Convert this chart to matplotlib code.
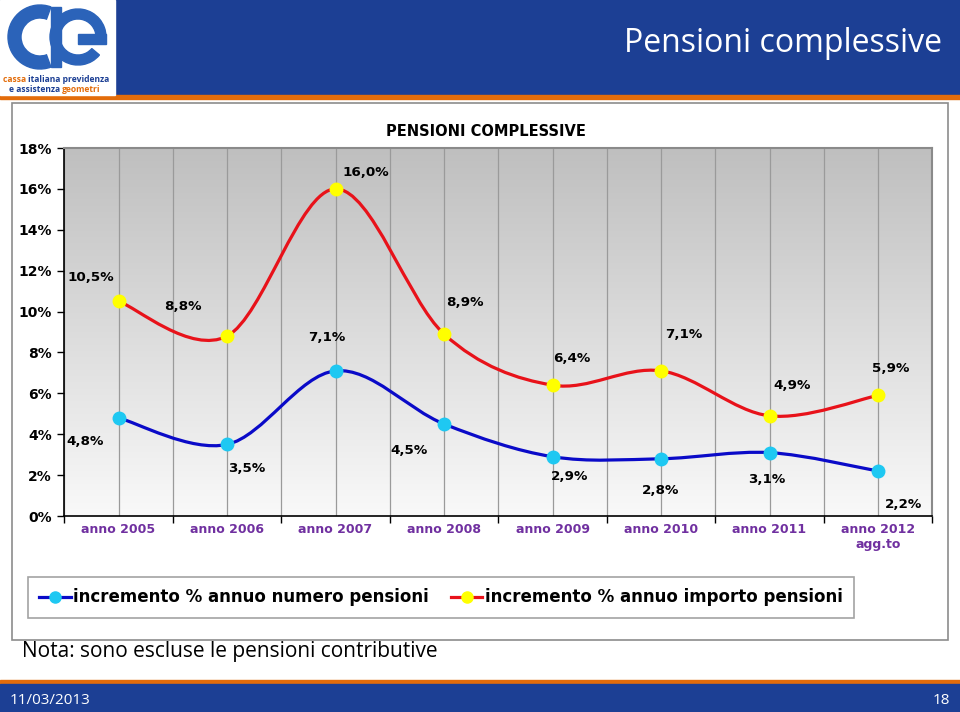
import numpy as np
import matplotlib
matplotlib.use("Agg")
import matplotlib.pyplot as plt
from matplotlib.path import Path
from matplotlib.patches import PathPatch, Rectangle, Wedge
from matplotlib.lines import Line2D
from matplotlib.colors import LinearSegmentedColormap

# ---- data ----
anni = ["anno 2005", "anno 2006", "anno 2007", "anno 2008",
        "anno 2009", "anno 2010", "anno 2011", "anno 2012\nagg.to"]
numero_pensioni = [4.8, 3.5, 7.1, 4.5, 2.9, 2.8, 3.1, 2.2]
importo_pensioni = [10.5, 8.8, 16.0, 8.9, 6.4, 7.1, 4.9, 5.9]
y_ticks = [0, 2, 4, 6, 8, 10, 12, 14, 16, 18]

serie_numero = "incremento % annuo numero pensioni"
serie_importo = "incremento % annuo importo pensioni"

# where each data label sits relative to its point (offset points)
off_numero = [(-24, -17), (14, -17), (-6, 24), (-25, -19),
              (12, -14), (0, -23), (-2, -19), (18, -24)]
off_importo = [(-20, 17), (-32, 21), (22, 12), (15, 23),
               (14, 19), (16, 26), (16, 22), (9, 19)]

BLU_HDR = "#1c3f94"
ARANCIO = "#e36c0a"
VIOLA = "#7030a0"
SLIDE_FONT = ["Open Sans", "DejaVu Sans"]


def smooth_path(xs, ys):
    # Excel style smoothed line: Catmull-Rom drawn as cubic Bezier
    pts = np.column_stack([xs, ys]).astype(float)
    n = len(pts)
    verts = [pts[0]]
    codes = [Path.MOVETO]
    for i in range(n - 1):
        p0 = pts[max(i - 1, 0)]
        p1 = pts[i]
        p2 = pts[i + 1]
        p3 = pts[min(i + 2, n - 1)]
        verts += [p1 + (p2 - p0) / 6.0, p2 - (p3 - p1) / 6.0, p2]
        codes += [Path.CURVE4] * 3
    return Path(verts, codes)


def lbl(v):
    return ("%.1f" % v).replace(".", ",") + "%"


def colored_line(axx, x0, y0, parts, size):
    # draws text pieces one after another, each with its own colour
    prev = axx.text(x0, y0, parts[0][0], color=parts[0][1], fontsize=size,
                    fontweight="bold", va="center", family=SLIDE_FONT)
    for txt, col in parts[1:]:
        prev = axx.annotate(txt, xy=(1, 0.5), xycoords=prev, va="center",
                            color=col, fontsize=size, fontweight="bold",
                            family=SLIDE_FONT)


fig = plt.figure(figsize=(9.6, 7.12), dpi=100)

# background layer in pixel coordinates
bg = fig.add_axes([0, 0, 1, 1], zorder=0)
bg.set_xlim(0, 960)
bg.set_ylim(712, 0)
bg.axis("off")

# header
bg.add_patch(Rectangle((0, 0), 960, 95, color=BLU_HDR))
bg.add_patch(Rectangle((0, 95), 960, 4, color=ARANCIO))
bg.add_patch(Rectangle((0, 0), 115, 95, color="white"))
# rough logo
logo_blu = "#2b63b9"
bg.add_patch(Wedge((40, 37), 32, 70, 290, width=13, color=logo_blu))
bg.add_patch(Wedge((78, 37), 28, 40, 360, width=10, color=logo_blu))
bg.add_patch(Rectangle((51, 7), 10, 60, color=logo_blu))
bg.add_patch(Rectangle((78, 34), 28, 10, color=logo_blu))
colored_line(bg, 3, 79, [("cassa ", ARANCIO), ("italiana previdenza", BLU_HDR)], 6.1)
colored_line(bg, 9, 90, [("e assistenza ", BLU_HDR), ("geometri", ARANCIO)], 6.1)

bg.text(942, 44, "Pensioni complessive", color="white", fontsize=23,
        family=SLIDE_FONT, ha="right", va="center")

# chart box
bg.add_patch(Rectangle((12, 103), 936, 537, facecolor="white", edgecolor="#8c8c8c", lw=1.2))
bg.text(486, 131, "PENSIONI COMPLESSIVE", fontsize=10.5, fontweight="bold",
        ha="center", va="center")

# note + footer
bg.text(22, 652, "Nota: sono escluse le pensioni contributive", fontsize=15,
        family=SLIDE_FONT, va="center")
bg.add_patch(Rectangle((0, 680), 960, 4, color=ARANCIO))
bg.add_patch(Rectangle((0, 684), 960, 28, color=BLU_HDR))
bg.text(10, 700, "11/03/2013", color="white", fontsize=11, family=SLIDE_FONT, va="center")
bg.text(950, 700, "18", color="white", fontsize=11, family=SLIDE_FONT, va="center", ha="right")

# ---- chart ----
ax = fig.add_axes([64.3 / 960, 1 - 516 / 712, 868 / 960, 368 / 712], zorder=1)
ax.set_xlim(0, len(anni))
ax.set_ylim(0, 18)

grad = LinearSegmentedColormap.from_list("g", ["#bfbfbf", "#f9f9f9"])
ax.imshow(np.linspace(0, 1, 256).reshape(-1, 1), cmap=grad, aspect="auto",
          extent=[0, len(anni), 0, 18], origin="upper", zorder=0)

x = np.arange(len(anni)) + 0.5

ax.add_patch(PathPatch(smooth_path(x, numero_pensioni), facecolor="none",
                       edgecolor="#0a0ac8", lw=2.3, zorder=3))
ax.add_patch(PathPatch(smooth_path(x, importo_pensioni), facecolor="none",
                       edgecolor="#e8121a", lw=2.3, zorder=3))
ax.plot(x, numero_pensioni, ls="none", marker="o", ms=9, mfc="#1ec8f2", mec="#1ec8f2", zorder=4)
ax.plot(x, importo_pensioni, ls="none", marker="o", ms=9, mfc="#ffff00", mec="#ffff00", zorder=4)

for xi, v, o in zip(x, numero_pensioni, off_numero):
    ax.annotate(lbl(v), (xi, v), xytext=o, textcoords="offset points",
                ha="center", va="center", fontsize=9.7, fontweight="bold", zorder=5)
for xi, v, o in zip(x, importo_pensioni, off_importo):
    ax.annotate(lbl(v), (xi, v), xytext=o, textcoords="offset points",
                ha="center", va="center", fontsize=9.7, fontweight="bold", zorder=5)

ax.set_xticks(np.arange(len(anni) + 1))
ax.set_xticklabels([])
ax.set_xticks(x, minor=True)
ax.set_xticklabels(anni, minor=True, color=VIOLA, fontweight="bold", fontsize=9)
ax.tick_params(axis="x", which="major", length=5, width=1, direction="out", color="black")
ax.tick_params(axis="x", which="minor", length=0, pad=5)
ax.set_yticks(y_ticks)
ax.set_yticklabels([str(t) + "%" for t in y_ticks], fontweight="bold", fontsize=10)
ax.tick_params(axis="y", length=5, width=1, direction="out", pad=4)

ax.grid(True, which="both", axis="x", color="#9a9a9a", lw=0.9)
ax.set_axisbelow(True)
for s in ["top", "right"]:
    ax.spines[s].set_color("#8a8a8a")
    ax.spines[s].set_linewidth(1.5)
for s in ["left", "bottom"]:
    ax.spines[s].set_color("black")
    ax.spines[s].set_linewidth(1.2)

handles = [
    Line2D([], [], color="#0a0ac8", lw=2.3, marker="o", ms=8, mfc="#1ec8f2", mec="#1ec8f2"),
    Line2D([], [], color="#e8121a", lw=2.3, marker="o", ms=8, mfc="#ffff00", mec="#ffff00"),
]
leg = fig.legend(handles, [serie_numero, serie_importo], loc="center",
                 bbox_to_anchor=(441 / 960, 1 - 597.5 / 712), ncol=2,
                 frameon=True, fancybox=False, edgecolor="#8c8c8c",
                 prop=dict(weight="bold", size=12), handlelength=1.9,
                 handletextpad=0.15, columnspacing=1.3, borderpad=0.7,
                 borderaxespad=0)
leg.get_frame().set_linewidth(1.2)

fig.savefig("out.png", dpi=100)
